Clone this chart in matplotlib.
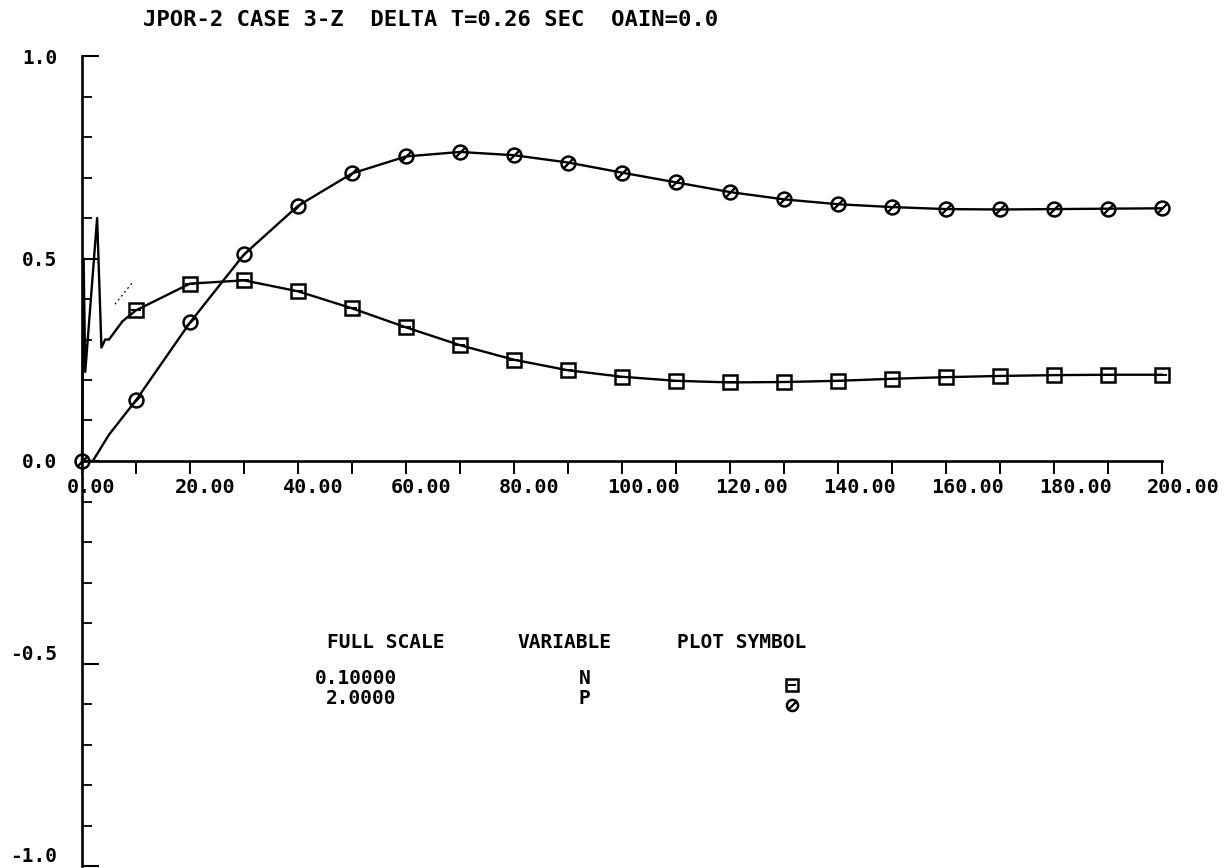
import matplotlib.pyplot as plt
from matplotlib.transforms import ScaledTranslation
from matplotlib.ticker import MultipleLocator

# time axis (sec) and plotted values at the marker positions
t_marks = [0, 10, 20, 30, 40, 50, 60, 70, 80, 90, 100,
           110, 120, 130, 140, 150, 160, 170, 180, 190, 200]
p_marks = [0.0, 0.150, 0.342, 0.510, 0.630, 0.710, 0.752, 0.763, 0.755, 0.737, 0.712,
           0.688, 0.664, 0.646, 0.634, 0.627, 0.622, 0.621, 0.622, 0.623, 0.624]
n_marks = [0.0, 0.372, 0.438, 0.446, 0.419, 0.377, 0.330, 0.286, 0.250, 0.224, 0.208,
           0.198, 0.194, 0.195, 0.198, 0.203, 0.207, 0.210, 0.212, 0.213, 0.213]

# early transient of N (spike) and start of P
n_early_t = [0.0, 0.3, 0.6, 2.8, 3.6, 4.3, 5.0, 7.5]
n_early = [0.0, 0.50, 0.22, 0.60, 0.28, 0.30, 0.30, 0.345]
p_early_t = [0.0, 2.0, 5.0]
p_early = [0.0, 0.0, 0.065]

# stray dotted trace near the start
dot_t = [6.1, 9.3]
dot_v = [0.387, 0.44]

title = "JPOR-2 CASE 3-Z  DELTA T=0.26 SEC  OAIN=0.0"
legend_cols = ["FULL SCALE", "VARIABLE", "PLOT SYMBOL"]
full_scale = ["0.10000", "2.0000"]
variables = ["N", "P"]

mono = "DejaVu Sans Mono"
wt = "bold"

fig = plt.figure(figsize=(12.27, 8.68), dpi=100)
ax = fig.add_axes([82 / 1227, 2 / 868, 1080 / 1227, 810 / 868])
ax.set_xlim(0, 200)
ax.set_ylim(-1.0, 1.0)

# curves
n_t = n_early_t + t_marks[1:]
n_v = n_early + n_marks[1:]
p_t = p_early_t + t_marks[1:]
p_v = p_early + p_marks[1:]
ax.plot(n_t, n_v, color="black", lw=1.7, clip_on=False)
ax.plot(p_t, p_v, color="black", lw=1.7, clip_on=False)

# plot symbols: box with a bar, circle with a slash
def sym_square(x, y, ms):
    ax.plot(x, y, ls="none", marker="s", ms=ms, mfc="none", mec="black",
            mew=1.8, clip_on=False)
    ax.plot(x, y, ls="none", marker="_", ms=ms * 0.75, mec="black",
            mew=1.4, clip_on=False)

def sym_circle(x, y, ms):
    ax.plot(x, y, ls="none", marker="o", ms=ms, mfc="none", mec="black",
            mew=1.8, clip_on=False)
    ax.plot(x, y, ls="none", marker=(2, 2, -45), ms=ms * 0.9, mec="black",
            mew=1.4, clip_on=False)

sym_square(t_marks[1:], n_marks[1:], 9.5)
sym_circle(t_marks, p_marks, 10)
ax.plot(dot_t, dot_v, color="black", lw=0.9, ls=(0, (1.5, 2.5)))

# axes like the plotter output
for s in ["top", "right"]:
    ax.spines[s].set_visible(False)
ax.spines["bottom"].set_position(("data", 0))
ax.spines["left"].set_linewidth(1.9)
ax.spines["bottom"].set_linewidth(1.9)

ax.yaxis.set_minor_locator(MultipleLocator(0.1))
ax.tick_params(axis="y", which="major", direction="in", length=12, width=1.5,
               labelsize=14, pad=18)
ax.tick_params(axis="y", which="minor", direction="in", length=7, width=1.3)
ax.set_yticks([1.0, 0.5, 0.0, -0.5, -1.0])
ax.set_yticklabels(["1.0", "0.5", "0.0", "-0.5", "-1.0"], family=mono, weight=wt)
up = ScaledTranslation(0, 11 / 100, fig.dpi_scale_trans)
for lab in ax.get_yticklabels():
    if lab.get_text().startswith("-"):
        lab.set_transform(lab.get_transform() + up)

ax.xaxis.set_minor_locator(MultipleLocator(10))
ax.tick_params(axis="x", which="major", direction="out", length=9, width=1.4,
               labelsize=14.5, pad=3)
ax.tick_params(axis="x", which="minor", direction="out", length=9, width=1.4)
xt = list(range(0, 201, 20))
ax.set_xticks(xt)
ax.set_xticklabels(["%.2f" % v for v in xt], family=mono, weight=wt)
shift = ScaledTranslation(-15 / 100, 0, fig.dpi_scale_trans)
for lab in ax.get_xticklabels():
    lab.set_ha("left")
    lab.set_transform(lab.get_transform() + shift)

# title
fig.text(143 / 1227, 1 - 20 / 868, title, family=mono, weight=wt, fontsize=16,
         ha="left", va="center")

# legend block
for x0, col in zip([45.4, 80.6, 110.2], legend_cols):
    ax.text(x0, -0.447, col, family=mono, weight=wt, fontsize=14,
            ha="left", va="center")
rows_y = [-0.536, -0.586]
for fs, var, y in zip(full_scale, variables, rows_y):
    ax.text(58.3, y, fs, family=mono, weight=wt, fontsize=14, ha="right", va="center")
    ax.text(92.0, y, var, family=mono, weight=wt, fontsize=14, ha="left", va="center")
sym_square([131.5], [-0.553], 8)
sym_circle([131.5], [-0.602], 8)

fig.savefig("out.png", dpi=100)
